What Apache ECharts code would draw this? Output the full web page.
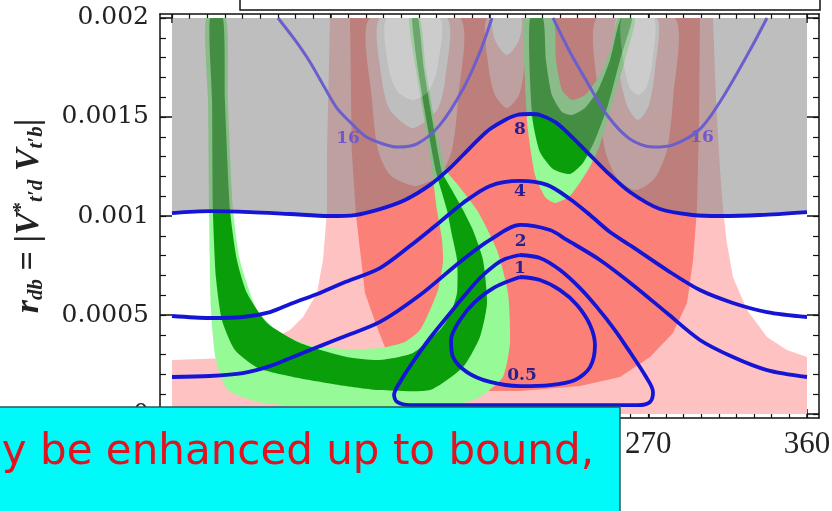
<!DOCTYPE html>
<html>
<head>
<meta charset="utf-8">
<script src="https://cdn.jsdelivr.net/npm/echarts@6/dist/echarts.min.js"></script>
<style>
html,body{margin:0;padding:0;background:#fff;}
#chart{width:832px;height:511px;}
</style>
</head>
<body>
<div id="chart"></div>
<script>
// ---- axes ----
const xTicks = [0, 90, 180, 270, 360];
const xTickLabels = ['0', '90', '180', '270', '360'];
const xMinorTicks = [0,10,20,30,40,50,60,70,80,90,100,110,120,130,140,150,160,170,180,190,200,210,220,230,240,250,260,270,280,290,300,310,320,330,340,350,360];
const yTicks = [0, 0.0005, 0.001, 0.0015, 0.002];
const yTickLabels = ['0', '0.0005', '0.001', '0.0015', '0.002'];
const yMinorTicks = [0,0.0001,0.0002,0.0003,0.0004,0.0005,0.0006,0.0007,0.0008,0.0009,0.001,0.0011,0.0012,0.0013,0.0014,0.0015,0.0016,0.0017,0.0018,0.0019,0.002];

// ---- allowed regions, boundaries as [phase (deg), r_db] ----
const lightPinkRegion = [[89.6,0.002],[87.9,0.001333],[87.9,0.00103],[85.6,0.000778],[82.2,0.000611],[74.3,0.00049],[66.9,0.000424],[55.6,0.000374],[44.2,0.000323],[32.9,0.000283],[0,0.000273],[0,0],[360,0],[360,0.000288],[348.6,0.000323],[337.3,0.000389],[326.0,0.000525],[318.0,0.000692],[314.6,0.000864],[312.4,0.00103],[310.7,0.001232],[308.4,0.001586],[306.7,0.002]];
const redRegion = [[100.9,0.002],[101.9,0.001333],[104.3,0.001005],[106.6,0.000828],[109.4,0.000611],[116.2,0.000439],[123.6,0.000273],[140.6,0.000146],[168.9,0.000116],[197.3,0.000116],[231.3,0.000141],[254.0,0.000187],[271.0,0.000288],[284.0,0.000409],[292.0,0.000561],[295.4,0.000778],[297.6,0.00103],[298.8,0.001485],[299.3,0.002]];
// gaps cut into the red band (light pink shows through)
const redGapA = [[112.2,0.002],[113.4,0.001586],[116.8,0.001333],[123.6,0.001207],[137.8,0.001152],[151.9,0.001207],[158.7,0.001333],[162.1,0.001586],[163.3,0.002]];
const redGapB = [[178.6,0.002],[179.7,0.001737],[183.1,0.001611],[189.9,0.001545],[196.7,0.001611],[199.5,0.001737],[200.7,0.002]];
const redGapC = [[240.9,0.002],[242.1,0.001586],[245.5,0.001333],[252.3,0.001192],[263.0,0.001131],[273.8,0.001192],[280.6,0.001333],[284.0,0.001586],[285.1,0.002]];
// gaps cut into the light pink band
const pinkGapA = [[117.9,0.002],[119.0,0.001687],[123.6,0.001535],[136.6,0.001444],[150.2,0.001535],[154.8,0.001687],[155.9,0.002]];
const pinkGapB = [[182.0,0.002],[183.1,0.001889],[189.9,0.001813],[196.7,0.001889],[197.8,0.002]];
const pinkGapC = [[252.3,0.002],[253.4,0.001737],[257.9,0.001561],[264.2,0.001485],[270.4,0.001561],[273.8,0.001737],[275.0,0.002]];
// green bands (2 sigma light, 1 sigma dark)
const greenLeftOuter = [[19.3,0.002],[20.4,0.001586],[21.0,0.00103],[22.1,0.000525],[24.9,0.000273],[31.7,0.000121],[48.8,0.000061],[72.6,0.00004],[117.9,0.000035],[155.9,0.000035],[174.6,0.000086],[187.6,0.000187],[191.6,0.000359],[190.5,0.000611],[184.2,0.000828],[172.9,0.00103],[162.1,0.001157],[155.3,0.001232],[149.7,0.001439],[144.0,0.001737],[140.6,0.002],[134.4,0.002],[138.3,0.001737],[144.0,0.001439],[147.4,0.001232],[150.2,0.00103],[153.1,0.000879],[153.6,0.000768],[150.8,0.000626],[146.3,0.000525],[140.6,0.000424],[132.1,0.000364],[117.9,0.000333],[99.2,0.000328],[79.9,0.000343],[61.2,0.000409],[48.2,0.000525],[38.5,0.000778],[34.6,0.00103],[31.7,0.001586],[30.6,0.002]];
const greenLeftInner = [[21.5,0.002],[22.7,0.001586],[23.2,0.00103],[24.9,0.000692],[28.3,0.000475],[35.7,0.000323],[48.8,0.000232],[68.6,0.000187],[95.2,0.000146],[117.9,0.000121],[146.3,0.000121],[165.0,0.000237],[174.6,0.000389],[178.6,0.000561],[176.3,0.000778],[170.6,0.000929],[165.0,0.00103],[158.7,0.001131],[153.1,0.001222],[148.5,0.001439],[142.9,0.001737],[139.5,0.002],[136.1,0.002],[139.5,0.001737],[145.1,0.001439],[149.7,0.001222],[155.9,0.00103],[158.7,0.000904],[161.6,0.000778],[161.6,0.000611],[157.6,0.0005],[151.9,0.000424],[136.6,0.000308],[117.9,0.000273],[99.2,0.000288],[72.6,0.000359],[53.9,0.00046],[42.5,0.000611],[36.8,0.000778],[32.9,0.00103],[30.0,0.001586],[28.9,0.002]];
const greenMidOuter = [[200.1,0.002],[200.1,0.001687],[201.8,0.001434],[205.8,0.001207],[211.5,0.001096],[217.1,0.001066],[225.6,0.001101],[235.8,0.001232],[242.6,0.001359],[249.4,0.001561],[256.8,0.001788],[262.5,0.002],[252.8,0.002],[249.4,0.00186],[242.6,0.001712],[234.1,0.001611],[226.8,0.001586],[221.1,0.001636],[217.7,0.001788],[216.0,0.002]];
const greenMidInner = [[203.0,0.002],[203.0,0.001687],[204.6,0.001475],[208.6,0.001323],[216.0,0.001237],[225.6,0.001212],[233.0,0.001268],[239.8,0.001384],[247.2,0.001561],[254.0,0.001788],[260.8,0.002],[254.5,0.002],[248.3,0.001788],[241.5,0.001636],[234.1,0.001545],[226.8,0.00151],[221.1,0.001525],[215.4,0.001611],[212.0,0.001788],[210.3,0.002]];
// paler patches inside the excluded zone
const paleA = [[121.9,0.002],[123.0,0.001737],[128.1,0.001626],[136.6,0.001586],[145.1,0.001626],[150.2,0.001737],[151.9,0.002]];
const paleC = [[255.1,0.002],[256.2,0.001763],[259.6,0.001646],[264.2,0.001611],[268.7,0.001646],[272.1,0.001763],[273.2,0.002]];

// ---- enhancement contours ----
const contour16a = [[60.1,0.002],[69.7,0.001889],[78.2,0.001778],[86.7,0.001646],[93.5,0.001545],[100.9,0.001475],[109.4,0.001404],[117.9,0.001369],[127.6,0.001348],[138.9,0.001364],[151.9,0.00146],[165.0,0.001641],[174.6,0.001828],[181.4,0.002]];
const contour16b = [[216.0,0.002],[225.6,0.001828],[235.3,0.001677],[246.6,0.00151],[259.6,0.001389],[272.7,0.001348],[284.0,0.001359],[299.3,0.001439],[312.4,0.001601],[327.7,0.001838],[337.3,0.002]];
const contour8 = [[0,0.001015],[21.5,0.001025],[44.2,0.00102],[66.9,0.00101],[89.6,0.001],[103.7,0.001005],[117.9,0.001035],[132.1,0.001081],[146.3,0.001157],[157.6,0.001242],[165.0,0.001308],[174.6,0.001394],[180.3,0.001439],[188.8,0.001485],[195.6,0.00151],[203.0,0.001515],[208.6,0.00151],[217.1,0.001475],[223.9,0.001424],[235.3,0.001323],[246.6,0.001222],[259.6,0.001121],[276.6,0.001035],[295.4,0.001005],[310.7,0.001],[333.3,0.001005],[360,0.00102]];
const contour4 = [[0,0.000495],[21.5,0.000485],[40.2,0.00049],[55.6,0.000515],[68.6,0.000561],[83.9,0.000611],[96.9,0.000662],[117.9,0.000737],[134.9,0.000848],[151.9,0.00097],[165.0,0.001066],[180.3,0.001152],[197.3,0.001177],[212.6,0.001157],[225.6,0.001086],[237.0,0.001005],[248.3,0.000919],[261.3,0.000843],[280.6,0.000727],[299.3,0.000626],[318.0,0.000561],[337.3,0.000515],[360,0.00049]];
const contour2 = [[0,0.000187],[21.5,0.000192],[40.2,0.000207],[55.6,0.000242],[68.6,0.000288],[83.9,0.000343],[96.9,0.000389],[117.9,0.000465],[140.6,0.000601],[163.3,0.000768],[180.3,0.000879],[197.3,0.000955],[214.3,0.000929],[223.9,0.000879],[242.6,0.000778],[261.3,0.000652],[280.6,0.00051],[299.3,0.000374],[318.0,0.000288],[337.3,0.000222],[360,0.000187]];
const contour1 = [[197.3,0.000803],[208.6,0.000788],[220.0,0.000727],[231.3,0.000636],[240.9,0.00054],[251.1,0.000424],[259.6,0.000313],[268.1,0.000197],[272.7,0.000111],[271.0,0.000061],[264.2,0.000045],[242.6,0.000045],[208.6,0.000045],[168.9,0.000045],[134.9,0.000045],[127.6,0.000061],[125.9,0.000096],[129.3,0.000162],[136.6,0.000263],[146.3,0.000384],[155.9,0.00049],[166.1,0.000601],[174.6,0.000687],[183.1,0.000753],[188.8,0.000783],[197.3,0.000803]];
const contourHalf = [[197.3,0.000692],[208.6,0.000677],[220.0,0.000626],[229.6,0.000551],[237.0,0.00045],[239.8,0.000348],[237.0,0.000237],[228.5,0.000172],[214.3,0.000146],[197.3,0.000141],[180.3,0.000162],[167.2,0.000212],[159.3,0.000288],[158.2,0.000374],[163.3,0.000475],[171.8,0.000566],[183.1,0.000641],[197.3,0.000692]];

const contourLabelPos = [[197.3,0.001434],[197.3,0.001121],[197.6,0.000869],[197.3,0.000737],[198.4,0.000192],[99.8,0.001389],[300.5,0.001394]];
const contourLabelText = ['8','4','2','1','0.5','16','16'];

// ---- colours ----
const C = {
  lightPink: '#FFC2C2', red: '#FA8078', white: '#FFFFFF',
  lightGreen: '#96FA96', green: '#0A9E0A',
  veil: 'rgba(125,125,125,0.5)', pale: 'rgba(255,255,255,0.22)',
  line: '#1515D5', line16: '#6A5FCC', text: '#2A1E8E', text16: '#6E5ACD'
};

// filled region; optional smoothing is kept inside the 0..360 x 0..0.002 box
function region(points, fill, smooth) {
  return {
    type: 'custom', xAxisIndex: 0, yAxisIndex: 0, silent: true, animation: false,
    data: points,
    renderItem: function (params, api) {
      if (params.dataIndex !== 0) return null;
      const tl = api.coord([0, 0.002]);
      const br = api.coord([360, 0]);
      const shape = { points: points.map(p => api.coord(p)) };
      if (smooth) {
        shape.smooth = smooth;
        shape.smoothConstraint = [[tl[0], tl[1]], [br[0], br[1]]];
      }
      return { type: 'polygon', shape: shape, style: { fill: fill } };
    }
  };
}
function contour(points, color, width) {
  return {
    type: 'line', xAxisIndex: 0, yAxisIndex: 0, data: points, smooth: 0.3, symbol: 'none',
    silent: true, animation: false, lineStyle: { color: color, width: width }
  };
}

const excludedZone = contour8.concat([[360, 0.002], [0, 0.002]]);

const axisColor = '#111';
const xBase = { type: 'value', min: -6.8, max: 366.8, splitLine: { show: false } };
const yBase = { type: 'value', min: -0.00002, max: 0.00202, splitLine: { show: false } };

const option = {
  backgroundColor: '#fff',
  animation: false,
  grid: { left: 160, right: 13, top: 14, bottom: 93, show: false, containLabel: false, outerBoundsMode: 'none' },
  xAxis: [
    Object.assign({}, xBase, {
      position: 'bottom',
      axisLine: { onZero: false, lineStyle: { color: axisColor, width: 1.5 } },
      axisTick: { inside: true, length: 9, customValues: xTicks, lineStyle: { color: axisColor, width: 1.5 } },
      axisLabel: { customValues: xTicks, formatter: v => xTickLabels[xTicks.indexOf(v)], fontFamily: 'Liberation Serif', fontSize: 31, color: '#222', margin: 11 }
    }),
    Object.assign({}, xBase, {
      position: 'top',
      axisLine: { onZero: false, lineStyle: { color: axisColor, width: 1.5 } },
      axisTick: { inside: true, length: 9, customValues: xTicks, lineStyle: { color: axisColor, width: 1.5 } },
      axisLabel: { show: false }
    }),
    Object.assign({}, xBase, {
      position: 'bottom', axisLine: { show: false, onZero: false },
      axisTick: { inside: true, length: 5, customValues: xMinorTicks, lineStyle: { color: axisColor, width: 1.2 } },
      axisLabel: { show: false }
    }),
    Object.assign({}, xBase, {
      position: 'top', axisLine: { show: false, onZero: false },
      axisTick: { inside: true, length: 5, customValues: xMinorTicks, lineStyle: { color: axisColor, width: 1.2 } },
      axisLabel: { show: false }
    })
  ],
  yAxis: [
    Object.assign({}, yBase, {
      position: 'left',
      axisLine: { onZero: false, lineStyle: { color: axisColor, width: 1.5 } },
      axisTick: { inside: true, length: 12, customValues: yTicks, lineStyle: { color: axisColor, width: 1.5 } },
      axisLabel: { customValues: yTicks, formatter: v => yTickLabels[yTicks.indexOf(v)], fontFamily: 'DejaVu Serif', fontSize: 25, color: '#222', margin: 11 },
      name: '{i|r}{s|db}{n| = |}{i|V}{p|*}{s|t\u2032d}{i| V}{s|t\u2032b}{n||}',
      nameLocation: 'middle', nameRotate: 90, nameGap: 113,
      nameTextStyle: {
        rich: {
          i: { fontFamily: 'Liberation Serif', fontStyle: 'italic', fontWeight: 'bold', fontSize: 34, color: '#222', lineHeight: 36, verticalAlign: 'middle' },
          n: { fontFamily: 'Liberation Serif', fontWeight: 'bold', fontSize: 34, color: '#222', lineHeight: 36, verticalAlign: 'middle' },
          s: { fontFamily: 'Liberation Serif', fontStyle: 'italic', fontWeight: 'bold', fontSize: 21, color: '#222', lineHeight: 21, verticalAlign: 'bottom' },
          p: { fontFamily: 'Liberation Serif', fontWeight: 'bold', fontSize: 21, color: '#222', lineHeight: 21, verticalAlign: 'top' }
        }
      }
    }),
    Object.assign({}, yBase, {
      position: 'right',
      axisLine: { onZero: false, lineStyle: { color: axisColor, width: 1.5 } },
      axisTick: { inside: true, length: 12, customValues: yTicks, lineStyle: { color: axisColor, width: 1.5 } },
      axisLabel: { show: false }
    }),
    Object.assign({}, yBase, {
      position: 'left', axisLine: { show: false, onZero: false },
      axisTick: { inside: true, length: 6, customValues: yMinorTicks, lineStyle: { color: axisColor, width: 1.2 } },
      axisLabel: { show: false }
    }),
    Object.assign({}, yBase, {
      position: 'right', axisLine: { show: false, onZero: false },
      axisTick: { inside: true, length: 6, customValues: yMinorTicks, lineStyle: { color: axisColor, width: 1.2 } },
      axisLabel: { show: false }
    })
  ],
  series: [
    region(lightPinkRegion, C.lightPink, 0),
    region(redRegion, C.red, 0),
    region(redGapA, C.lightPink, 0.25),
    region(redGapB, C.lightPink, 0.25),
    region(redGapC, C.lightPink, 0.25),
    region(pinkGapA, C.white, 0.25),
    region(pinkGapB, C.white, 0.25),
    region(pinkGapC, C.white, 0.25),
    region(greenLeftOuter, C.lightGreen, 0.2),
    region(greenLeftInner, C.green, 0.2),
    region(greenMidOuter, C.lightGreen, 0.2),
    region(greenMidInner, C.green, 0.2),
    region(excludedZone, C.veil, 0),
    region(paleA, C.pale, 0.25),
    region(paleC, C.pale, 0.25),
    contour(contour16a, C.line16, 3),
    contour(contour16b, C.line16, 3),
    contour(contour8, C.line, 3.8),
    contour(contour4, C.line, 3.8),
    contour(contour2, C.line, 3.8),
    contour(contour1, C.line, 3.8),
    contour(contourHalf, C.line, 3.8),
    {
      type: 'custom', xAxisIndex: 0, yAxisIndex: 0, silent: true, animation: false,
      data: contourLabelPos,
      renderItem: function (params, api) {
        const p = api.coord([api.value(0), api.value(1)]);
        const t = contourLabelText[params.dataIndex];
        const is16 = t === '16';
        return {
          type: 'text', x: p[0], y: p[1],
          style: {
            text: t, fill: is16 ? C.text16 : C.text,
            fontFamily: 'DejaVu Serif', fontWeight: 'bold', fontSize: 17,
            align: 'center', verticalAlign: 'middle'
          }
        };
      }
    }
  ],
  graphic: [
    { type: 'rect', z: 100, shape: { x: 240, y: -2, width: 580, height: 12 }, style: { fill: '#fff', stroke: '#111', lineWidth: 1.5 } },
    { type: 'rect', z: 100, shape: { x: -2, y: 407, width: 622, height: 110 }, style: { fill: '#00FAFA', stroke: '#1E5E5E', lineWidth: 1.5 } },
    { type: 'text', z: 101, x: 594, y: 453, style: { text: 'y be enhanced up to bound,', fill: '#E0141E', fontFamily: 'DejaVu Sans', fontSize: 42, align: 'right', verticalAlign: 'middle' } }
  ]
};

const chart = echarts.init(document.getElementById('chart'), null, { renderer: 'canvas' });
chart.setOption(option);
</script>
</body>
</html>
